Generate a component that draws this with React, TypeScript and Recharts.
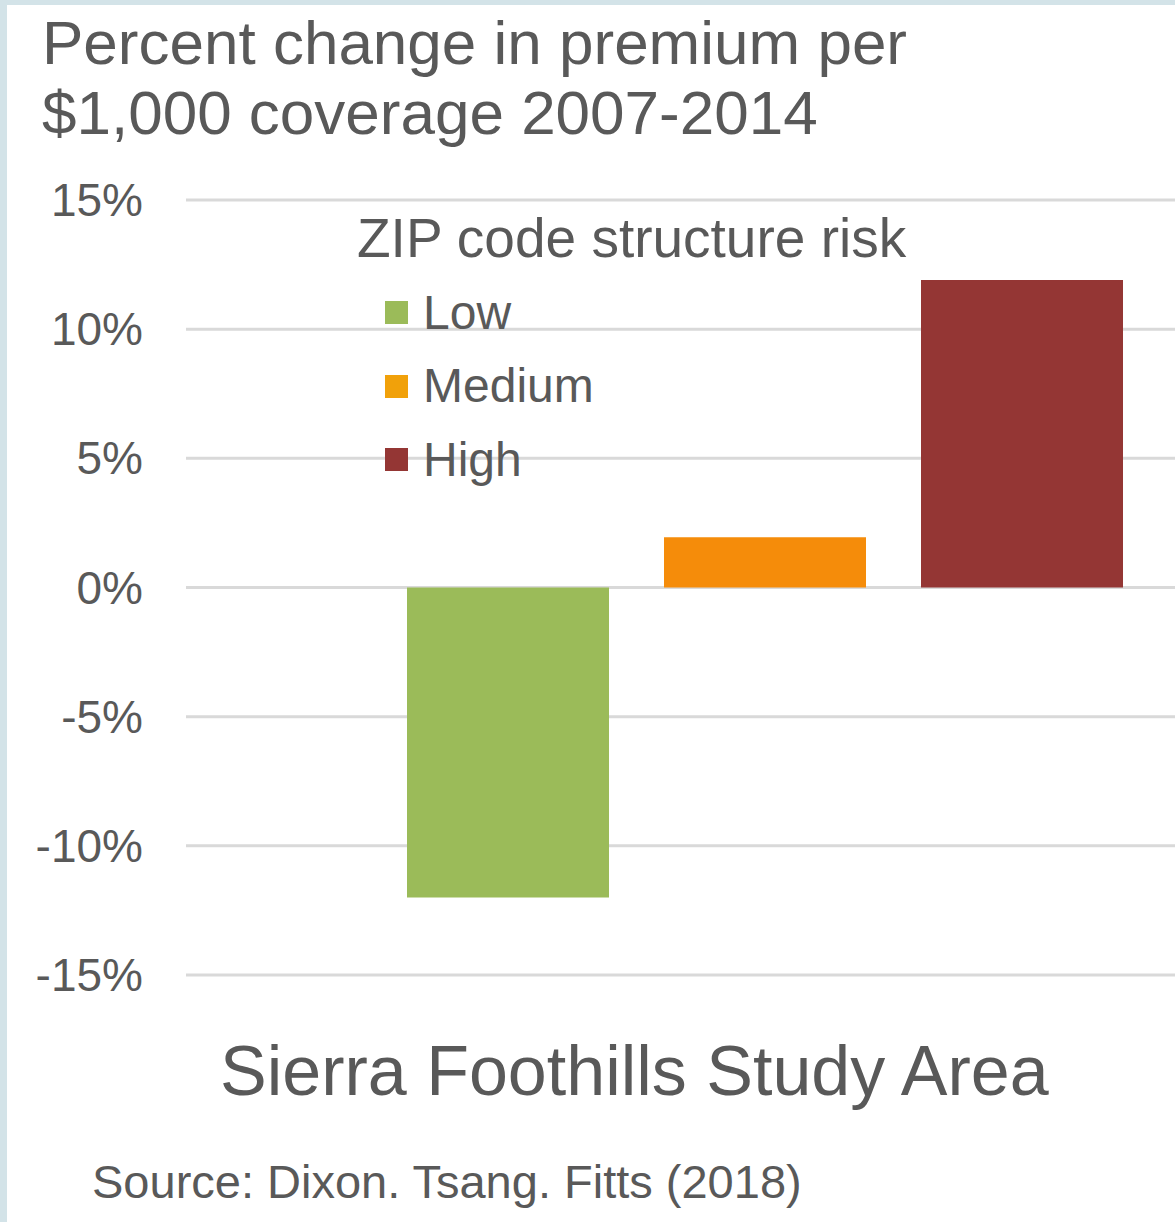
import React from 'react';
import { BarChart, Bar, XAxis, YAxis, CartesianGrid } from 'recharts';

const categories = ['Sierra Foothills Study Area'];
const lowValues = [-12.0];
const mediumValues = [1.95];
const highValues = [11.9];
const yTicks = [-15, -10, -5, 0, 5, 10, 15];

const series = [
  { key: 'low', name: 'Low', color: '#9bbb59', legendColor: '#9bbb59' },
  { key: 'medium', name: 'Medium', color: '#f58c0a', legendColor: '#f1a10a' },
  { key: 'high', name: 'High', color: '#943634', legendColor: '#943634' },
];

const data = categories.map((c, i) => ({
  category: c,
  low: lowValues[i],
  medium: mediumValues[i],
  high: highValues[i],
}));

const FONT = '"Liberation Sans", Arial, sans-serif';
const TEXT = '#595959';

const YTick = (props: any) => {
  const { y, payload } = props;
  return (
    <text x={143} y={y} textAnchor="end" dominantBaseline="central" fontSize={46} fill={TEXT} fontFamily={FONT}>
      {`${payload.value}%`}
    </text>
  );
};

// legend sits inside the plot, over the gridlines
const LegendBox = () => (
  <div style={{ position: 'absolute', left: 357, top: 211, fontFamily: FONT, color: TEXT }}>
    <div style={{ fontSize: 55, lineHeight: '55px', whiteSpace: 'nowrap' }}>ZIP code structure risk</div>
    <div style={{ position: 'absolute', left: 28, top: 65 }}>
      {series.map((s) => (
        <div key={s.key} style={{ display: 'flex', alignItems: 'center', height: 73.5, whiteSpace: 'nowrap' }}>
          <span style={{ width: 23, height: 23, background: s.legendColor, marginRight: 15 }} />
          <span style={{ fontSize: 48, lineHeight: '48px' }}>{s.name}</span>
        </div>
      ))}
    </div>
  </div>
);

export default function App() {
  return (
    <div style={{ position: 'absolute', left: 0, top: 0, width: 1175, height: 1222, background: '#d3e3e8', overflow: 'hidden' }}>
      <div style={{ position: 'absolute', left: 7, top: 5, right: 0, bottom: 0, background: '#ffffff' }} />
      <div style={{ position: 'absolute', left: 0, top: 0 }}>
        <BarChart
          width={1344}
          height={1222}
          data={data}
          margin={{ top: 200, right: 0, left: 0, bottom: 247 }}
          barSize={202}
          barGap={55}
        >
          <CartesianGrid vertical={false} stroke="#d9d9d9" strokeWidth={3} />
          <XAxis dataKey="category" hide />
          <YAxis
            width={186}
            domain={[-15, 15]}
            ticks={yTicks}
            axisLine={false}
            tickLine={false}
            tick={<YTick />}
          />
          {series.map((s) => (
            <Bar key={s.key} dataKey={s.key} name={s.name} fill={s.color} isAnimationActive={false} />
          ))}
        </BarChart>
      </div>
      <LegendBox />
      <div style={{ position: 'absolute', left: 42, top: 8, fontFamily: FONT, fontSize: 62, lineHeight: '70px', color: TEXT, whiteSpace: 'nowrap' }}>
        Percent change in premium per
        <br />
        $1,000 coverage 2007-2014
      </div>
      <div style={{ position: 'absolute', left: 220, top: 1036, fontFamily: FONT, fontSize: 70, lineHeight: '70px', color: TEXT, whiteSpace: 'nowrap' }}>
        {categories[0]}
      </div>
      <div style={{ position: 'absolute', left: 92, top: 1158, fontFamily: FONT, fontSize: 47, lineHeight: '47px', color: TEXT, whiteSpace: 'nowrap' }}>
        Source: Dixon. Tsang. Fitts (2018)
      </div>
    </div>
  );
}
